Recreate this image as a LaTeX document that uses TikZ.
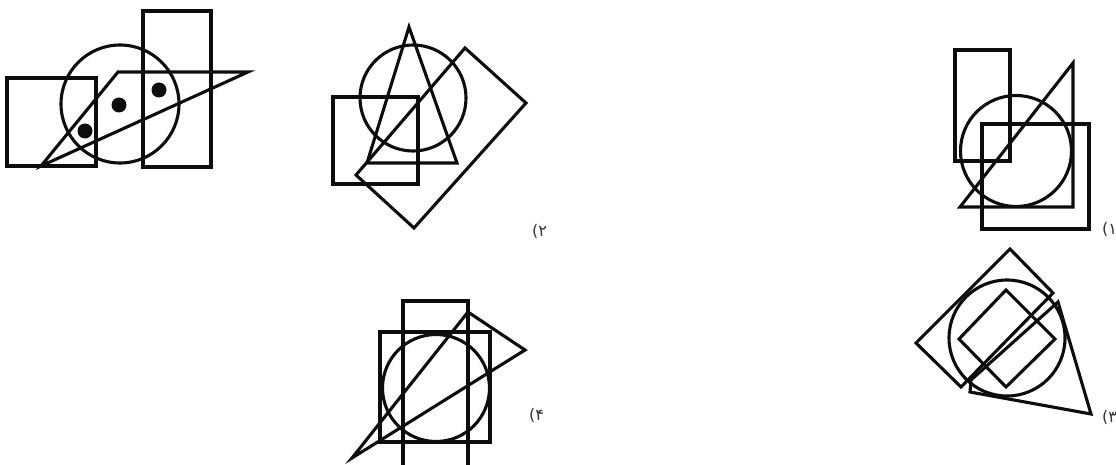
\documentclass[tikz,border=0pt]{standalone}
\usepackage{fontspec}
\newfontfamily\pfont{DejaVu Sans}
\begin{document}
\begin{tikzpicture}[x=1pt,y=-1pt,
  fig/.style={line width=3.1pt, line join=miter, draw=black!95},
  dotfill/.style={fill=black!95},
  lbl/.style={font=\pfont\fontsize{16}{16}\selectfont, text=black!80, inner sep=0pt, anchor=west}]
\useasboundingbox (0,0) rectangle (1116,465);
% top-left figure
\draw[fig] (7,78) rectangle (96,166);
\draw[fig] (143,11) rectangle (211,167);
\draw[fig] (120,104) circle[radius=59pt];
\draw[fig] (41,166) -- (118,72) -- (248,72) -- cycle;
\fill[dotfill] (85,131) circle[radius=7.5pt];
\fill[dotfill] (119,105) circle[radius=7.5pt];
\fill[dotfill] (159,90) circle[radius=7.5pt];
% figure 2
\draw[fig] (413,98) circle[radius=53pt];
\draw[fig] (409,27) -- (457,163) -- (367,163) -- cycle;
\draw[fig] (333,97) rectangle (418,184);
\draw[fig] (465,48) -- (526,103) -- (414,228) -- (356,175) -- cycle;
% figure 1
\draw[fig] (955,50) rectangle (1010,161);
\draw[fig] (1016,151) circle[radius=55.5pt];
\draw[fig] (1073,63) -- (1073,207) -- (960,207) -- cycle;
\draw[fig] (982,124) rectangle (1089,229);
% figure 3
\draw[fig] (1010,249) -- (1053,293) -- (961,387) -- (916,343) -- cycle;
\draw[fig] (1007,338) circle[radius=58pt];
\draw[fig] (1006,290) -- (1055,339) -- (1006,387) -- (959,339) -- cycle;
\draw[fig] (1058,302) -- (1091,414) -- (970,392) -- (971,380) -- cycle;
% figure 4
\draw[fig] (403,470) -- (403,301) -- (468,301) -- (468,470);
\draw[fig] (380,332) rectangle (490,442);
\draw[fig] (436,388) circle[radius=53.5pt];
\draw[fig] (468,312) -- (525,350) -- (352,458) -- cycle;
% labels
\node[lbl] (l2) at (532,231) {(۲};
\node[lbl] (l1) at (1102,229) {(۱};
\node[lbl] (l3) at (1102,417) {(۳};
\node[lbl] (l4) at (529,415) {(۴};
\end{tikzpicture}
\end{document}
